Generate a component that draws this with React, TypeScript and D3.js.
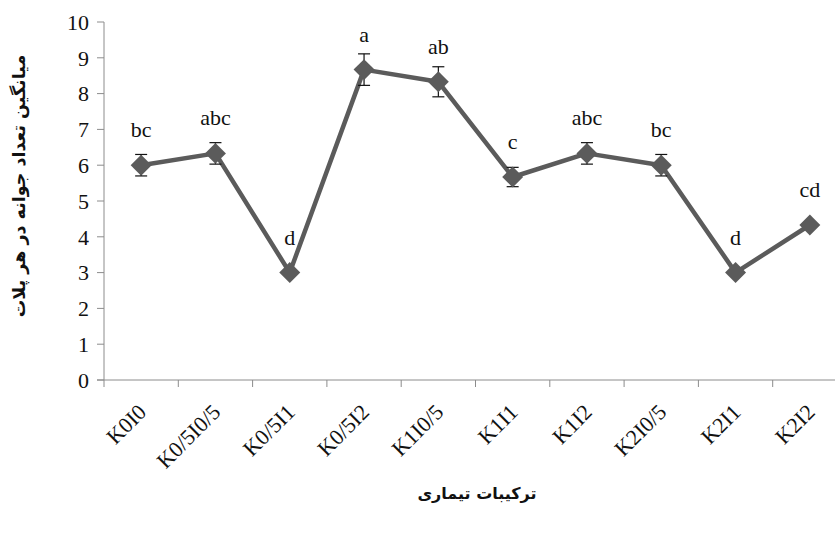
import React from 'react';
import * as d3 from 'd3';

const categories = ['K0I0', 'K0/5I0/5', 'K0/5I1', 'K0/5I2', 'K1I0/5', 'K1I1', 'K1I2', 'K2I0/5', 'K2I1', 'K2I2'];
const means = [6.0, 6.33, 3.0, 8.67, 8.33, 5.67, 6.33, 6.0, 3.0, 4.33];
const errors = [0.3, 0.3, 0, 0.44, 0.42, 0.27, 0.3, 0.3, 0, 0];
const letters = ['bc', 'abc', 'd', 'a', 'ab', 'c', 'abc', 'bc', 'd', 'cd'];
const yTicks = [0, 1, 2, 3, 4, 5, 6, 7, 8, 9, 10];

const yTitle = 'میانگین تعداد جوانه در هر پلات';
const xTitle = 'ترکیبات تیماری';

const W = 835;
const H = 534;
const serif = '"Liberation Serif", "Times New Roman", serif';
const persian = '"DejaVu Sans", sans-serif';

const App: React.FC = () => {
  const x = d3.scaleBand<string>().domain(categories).range([104, 847]);
  const y = d3.scaleLinear().domain([0, 10]).range([380, 22]);
  const cx = (c: string) => (x(c) ?? 0) + x.bandwidth() / 2;

  const line = d3
    .line<number>()
    .x((_, i) => cx(categories[i]))
    .y((d) => y(d));

  const diamond = d3.symbol().type(d3.symbolSquare).size(220)();
  const axisColor = '#8c8c8c';

  return (
    <svg
      width={W}
      height={H}
      style={{ position: 'fixed', left: 0, top: 0, background: '#fff' }}
    >
      {/* y axis */}
      <line x1={104} x2={104} y1={y(10)} y2={y(0)} stroke={axisColor} strokeWidth={1} />
      {yTicks.map((t) => (
        <g key={t} transform={`translate(0,${y(t)})`}>
          <line x1={97} x2={104} stroke={axisColor} />
          <text x={89} dy="0.35em" textAnchor="end" fontFamily={serif} fontSize={22} fill="#111">
            {t}
          </text>
        </g>
      ))}

      {/* x axis */}
      <line x1={97} x2={W} y1={y(0)} y2={y(0)} stroke={axisColor} />
      {categories.map((c) => (
        <line key={'t' + c} x1={x(c)} x2={x(c)} y1={y(0)} y2={y(0) + 7} stroke={axisColor} />
      ))}
      {categories.map((c) => (
        <text
          key={'l' + c}
          transform={`translate(${cx(c) + 1},${y(0) + 28}) rotate(-45)`}
          textAnchor="end"
          dy="0.35em"
          fontFamily={serif}
          fontSize={22}
          fill="#111"
        >
          {c}
        </text>
      ))}

      {/* series line */}
      <path d={line(means) ?? ''} fill="none" stroke="#5b5b5b" strokeWidth={4.5} strokeLinejoin="round" />

      {/* error bars */}
      {means.map((m, i) =>
        errors[i] > 0 ? (
          <g key={'e' + i} stroke="#111" strokeWidth={1.2}>
            <line x1={cx(categories[i])} x2={cx(categories[i])} y1={y(m + errors[i])} y2={y(m - errors[i])} />
            <line x1={cx(categories[i]) - 6} x2={cx(categories[i]) + 6} y1={y(m + errors[i])} y2={y(m + errors[i])} />
            <line x1={cx(categories[i]) - 6} x2={cx(categories[i]) + 6} y1={y(m - errors[i])} y2={y(m - errors[i])} />
          </g>
        ) : null
      )}

      {/* markers */}
      {means.map((m, i) => (
        <path
          key={'m' + i}
          d={diamond ?? ''}
          transform={`translate(${cx(categories[i])},${y(m)}) rotate(45)`}
          fill="#5b5b5b"
        />
      ))}

      {/* significance letters */}
      {means.map((m, i) => (
        <text
          key={'s' + i}
          x={cx(categories[i])}
          y={y(m) - 28}
          textAnchor="middle"
          fontFamily={serif}
          fontSize={22}
          fill="#111"
        >
          {letters[i]}
        </text>
      ))}

      {/* titles */}
      <text
        transform={`translate(25,${(y(0) + y(10)) / 2 - 15}) rotate(-90)`}
        textAnchor="middle"
        direction="rtl"
        fontFamily={persian}
        fontWeight="bold"
        fontSize={17.5}
        fill="#111"
      >
        {yTitle}
      </text>
      <text
        x={477}
        y={499}
        textAnchor="middle"
        direction="rtl"
        fontFamily={persian}
        fontWeight="bold"
        fontSize={16}
        fill="#111"
      >
        {xTitle}
      </text>
    </svg>
  );
};

export default App;
